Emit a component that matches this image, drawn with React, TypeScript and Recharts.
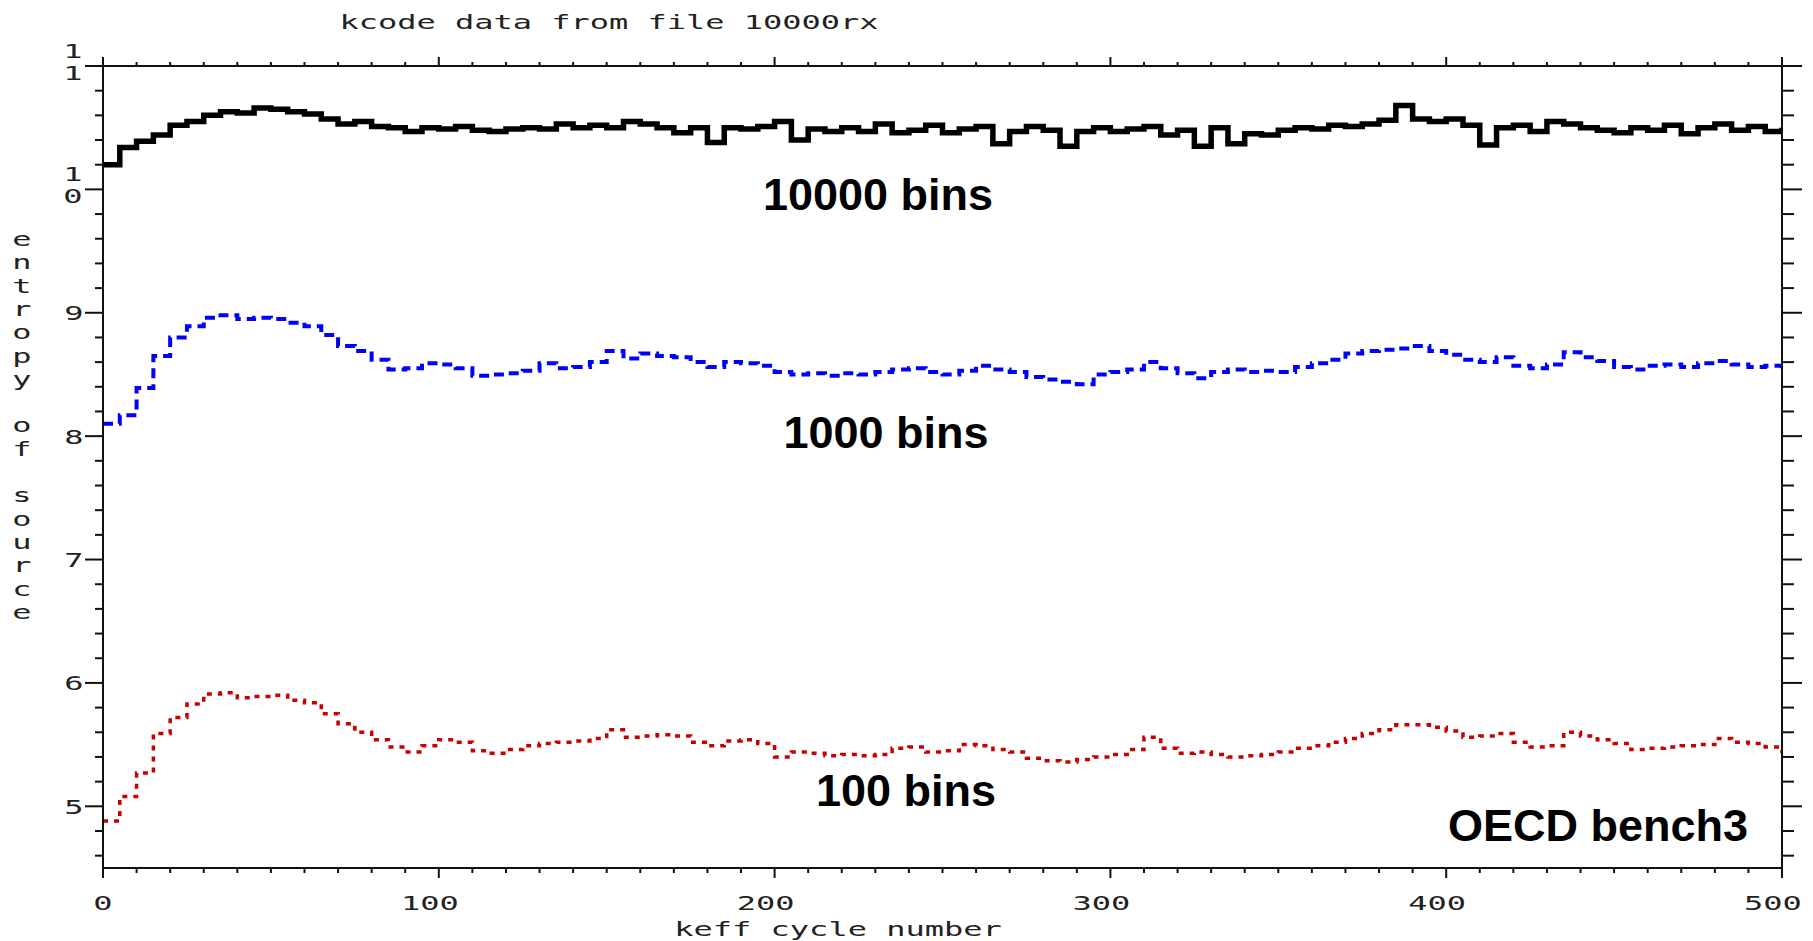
import React from "react";
import { LineChart, Line, XAxis, YAxis } from "recharts";

// keff cycle number (every 5th cycle)
const cycles: number[] = Array.from({ length: 101 }, (_, i) => i * 5);

// entropy of source, 10000 bins
const bins10000: number[] = [
  10.2, 10.34, 10.39, 10.44, 10.52, 10.55, 10.6, 10.63, 10.62, 10.66,
  10.65, 10.63, 10.61, 10.57, 10.53, 10.55, 10.51, 10.5, 10.47, 10.5,
  10.49, 10.51, 10.48, 10.47, 10.49, 10.5, 10.49, 10.53, 10.5, 10.52,
  10.5, 10.55, 10.53, 10.5, 10.46, 10.5, 10.38, 10.5, 10.49, 10.51,
  10.55, 10.4, 10.49, 10.47, 10.5, 10.47, 10.53, 10.46, 10.48, 10.52,
  10.46, 10.49, 10.51, 10.37, 10.47, 10.51, 10.48, 10.35, 10.47, 10.5,
  10.47, 10.49, 10.51, 10.44, 10.48, 10.35, 10.5, 10.37, 10.45, 10.44,
  10.48, 10.5, 10.49, 10.52, 10.51, 10.53, 10.56, 10.68, 10.57, 10.55,
  10.57, 10.52, 10.36, 10.5, 10.52, 10.47, 10.55, 10.53, 10.5, 10.48,
  10.46, 10.5, 10.48, 10.52, 10.45, 10.5, 10.53, 10.48, 10.51, 10.47,
  10.5,
];

// entropy of source, 1000 bins
const bins1000: number[] = [
  8.1, 8.17, 8.39, 8.65, 8.8, 8.89, 8.96, 8.98, 8.95, 8.96,
  8.95, 8.92, 8.89, 8.82, 8.73, 8.69, 8.62, 8.54, 8.55, 8.59,
  8.58, 8.55, 8.49, 8.5, 8.51, 8.53, 8.59, 8.55, 8.56, 8.6,
  8.69, 8.63, 8.67, 8.65, 8.64, 8.6, 8.56, 8.6, 8.59, 8.57,
  8.52, 8.5, 8.51, 8.49, 8.51, 8.5, 8.52, 8.54, 8.55, 8.52,
  8.5, 8.53, 8.57, 8.54, 8.52, 8.48, 8.46, 8.44, 8.42, 8.5,
  8.52, 8.54, 8.6, 8.55, 8.51, 8.47, 8.52, 8.54, 8.52, 8.53,
  8.52, 8.56, 8.59, 8.62, 8.67, 8.69, 8.7, 8.71, 8.73, 8.69,
  8.66, 8.62, 8.6, 8.64, 8.57, 8.55, 8.58, 8.68, 8.64, 8.61,
  8.56, 8.54, 8.57, 8.58, 8.56, 8.59, 8.61, 8.58, 8.56, 8.57,
  8.53,
];

// entropy of source, 100 bins
const bins100: number[] = [
  4.88, 5.08, 5.27, 5.59, 5.72, 5.83, 5.91, 5.92, 5.88, 5.89,
  5.9, 5.86, 5.84, 5.75, 5.67, 5.6, 5.54, 5.48, 5.44, 5.49,
  5.54, 5.52, 5.45, 5.43, 5.46, 5.49, 5.51, 5.52, 5.53, 5.55,
  5.62, 5.56, 5.57, 5.58, 5.57, 5.52, 5.49, 5.53, 5.54, 5.51,
  5.4, 5.44, 5.43, 5.41, 5.42, 5.41, 5.42, 5.47, 5.48, 5.44,
  5.45, 5.5, 5.49, 5.46, 5.44, 5.39, 5.37, 5.36, 5.38, 5.4,
  5.42, 5.46, 5.56, 5.47, 5.43, 5.44, 5.42, 5.4, 5.41, 5.42,
  5.44, 5.47, 5.49, 5.52, 5.55, 5.59, 5.62, 5.66, 5.66, 5.64,
  5.61, 5.56, 5.57, 5.59, 5.52, 5.48, 5.49, 5.6, 5.57, 5.54,
  5.51, 5.46, 5.47, 5.48, 5.49, 5.5, 5.55, 5.52, 5.51, 5.48,
  5.43,
];

// tick positions and labels
const xTicks: number[] = Array.from({ length: 51 }, (_, i) => i * 10);
const yTicks: number[] = Array.from({ length: 33 }, (_, i) => Math.round((4.6 + i * 0.2) * 10) / 10);
const xMajorLabels: number[] = [0, 100, 200, 300, 400, 500];
const yMajorLabels: number[] = [5, 6, 7, 8, 9, 10, 11];

const titleText = "kcode data from file 10000rx";
const xTitle = "keff cycle number";
const yTitle = "entropy of source";
const seriesLabels = ["10000 bins", "1000 bins", "100 bins"];
const benchLabel = "OECD bench3";

const data = cycles.map((c, i) => ({
  cycle: c,
  b10000: bins10000[i],
  b1000: bins1000[i],
  b100: bins100[i],
}));

const MONO = "'DejaVu Sans Mono', monospace";
const SANS = "'Liberation Sans', Arial, sans-serif";
const SX = 1.6;

const MonoText = ({ cx, by, text, anchor = "middle" }: any) => (
  <text
    x={0}
    y={0}
    transform={`translate(${cx},${by}) scale(${SX},1)`}
    textAnchor={anchor}
    fontFamily={MONO}
    fontSize={20}
    fill="#222"
  >
    {text}
  </text>
);

const isMajorY = (v: number) => yMajorLabels.some((m) => Math.abs(m - v) < 1e-6);
const isMajorX = (v: number) => xMajorLabels.some((m) => Math.abs(m - v) < 1e-6);

const LeftTick = (props: any) => {
  const { x, y, payload } = props;
  const v = payload.value;
  const major = isMajorY(v);
  const len = major ? 18 : 8;
  const label = String(Math.round(v));
  return (
    <g>
      <line x1={x} y1={y} x2={x - len} y2={y} stroke="#111" strokeWidth={2} />
      {major && label.length === 1 && <MonoText cx={x - 29} by={y + 7.5} text={label} />}
      {major && label.length === 2 && (
        <g>
          <MonoText cx={x - 30} by={y - 8.5} text={label[0]} />
          <MonoText cx={x - 30} by={y + 14} text={label[1]} />
        </g>
      )}
    </g>
  );
};

const RightTick = (props: any) => {
  const { x, y, payload } = props;
  const major = isMajorY(payload.value);
  const len = major ? 20 : 12;
  return <line x1={x} y1={y} x2={x + len} y2={y} stroke="#111" strokeWidth={2} />;
};

const BottomTick = (props: any) => {
  const { x, y, payload } = props;
  const v = payload.value;
  const major = isMajorX(v);
  const len = major ? 10 : 5;
  const label = String(v);
  return (
    <g>
      <line x1={x} y1={y} x2={x} y2={y + len} stroke="#111" strokeWidth={2} />
      {major && <MonoText cx={x - 4.5 * (label.length - 1)} by={y + 42} text={label} />}
    </g>
  );
};

const TopTick = (props: any) => {
  const { x, y, payload } = props;
  const major = isMajorX(payload.value);
  const len = major ? 9 : 4;
  return <line x1={x} y1={y} x2={x} y2={y - len} stroke="#111" strokeWidth={2} />;
};

export default function App() {
  const yTitleChars = yTitle.split("");
  return (
    <div style={{ position: "absolute", left: 0, top: 0, width: 1813, height: 941, overflow: "hidden", background: "#fff" }}>
      <LineChart
        width={1813}
        height={941}
        data={data}
        margin={{ top: 56, right: 11, bottom: 33, left: 43 }}
      >
        <XAxis
          xAxisId="bottom"
          dataKey="cycle"
          type="number"
          domain={[0, 500]}
          allowDataOverflow
          ticks={xTicks}
          interval={0}
          tickSize={0}
          tickMargin={0}
          height={40}
          axisLine={{ stroke: "#111", strokeWidth: 2 }}
          tickLine={false}
          tick={<BottomTick />}
        />
        <XAxis
          xAxisId="top"
          orientation="top"
          dataKey="cycle"
          type="number"
          domain={[0, 500]}
          allowDataOverflow
          ticks={xTicks}
          interval={0}
          tickSize={0}
          tickMargin={0}
          height={10}
          axisLine={{ stroke: "#111", strokeWidth: 2 }}
          tickLine={false}
          tick={<TopTick />}
        />
        <YAxis
          yAxisId="left"
          type="number"
          domain={[4.5, 11]}
          allowDataOverflow
          ticks={yTicks}
          interval={0}
          tickSize={0}
          tickMargin={0}
          width={60}
          axisLine={{ stroke: "#111", strokeWidth: 2 }}
          tickLine={false}
          tick={<LeftTick />}
        />
        <YAxis
          yAxisId="right"
          orientation="right"
          type="number"
          domain={[4.5, 11]}
          allowDataOverflow
          ticks={yTicks}
          interval={0}
          tickSize={0}
          tickMargin={0}
          width={20}
          axisLine={{ stroke: "#111", strokeWidth: 2 }}
          tickLine={false}
          tick={<RightTick />}
        />
        <Line
          xAxisId="bottom"
          yAxisId="left"
          dataKey="b100"
          type="stepAfter"
          stroke="#c80000"
          strokeWidth={3.5}
          strokeDasharray="5 6"
          dot={false}
          isAnimationActive={false}
        />
        <Line
          xAxisId="bottom"
          yAxisId="left"
          dataKey="b1000"
          type="stepAfter"
          stroke="#0000ff"
          strokeWidth={4}
          strokeDasharray="10 6"
          dot={false}
          isAnimationActive={false}
        />
        <Line
          xAxisId="bottom"
          yAxisId="left"
          dataKey="b10000"
          type="stepAfter"
          stroke="#000000"
          strokeWidth={5.5}
          dot={false}
          isAnimationActive={false}
        />
      </LineChart>
      <svg
        width={1813}
        height={941}
        style={{ position: "absolute", left: 0, top: 0, pointerEvents: "none" }}
      >
        <MonoText cx={609} by={29} text={titleText} />
        <MonoText cx={838} by={936} text={xTitle} />
        {yTitleChars.map((ch, i) => (
          <MonoText key={i} cx={22} by={246 + i * 23.3} text={ch} />
        ))}
        <text x={878} y={210} textAnchor="middle" fontFamily={SANS} fontWeight="bold" fontSize={45} fill="#000">
          {seriesLabels[0]}
        </text>
        <text x={886} y={448} textAnchor="middle" fontFamily={SANS} fontWeight="bold" fontSize={45} fill="#000">
          {seriesLabels[1]}
        </text>
        <text x={906} y={806} textAnchor="middle" fontFamily={SANS} fontWeight="bold" fontSize={45} fill="#000">
          {seriesLabels[2]}
        </text>
        <text x={1598} y={841} textAnchor="middle" fontFamily={SANS} fontWeight="bold" fontSize={45} fill="#000">
          {benchLabel}
        </text>
      </svg>
    </div>
  );
}
